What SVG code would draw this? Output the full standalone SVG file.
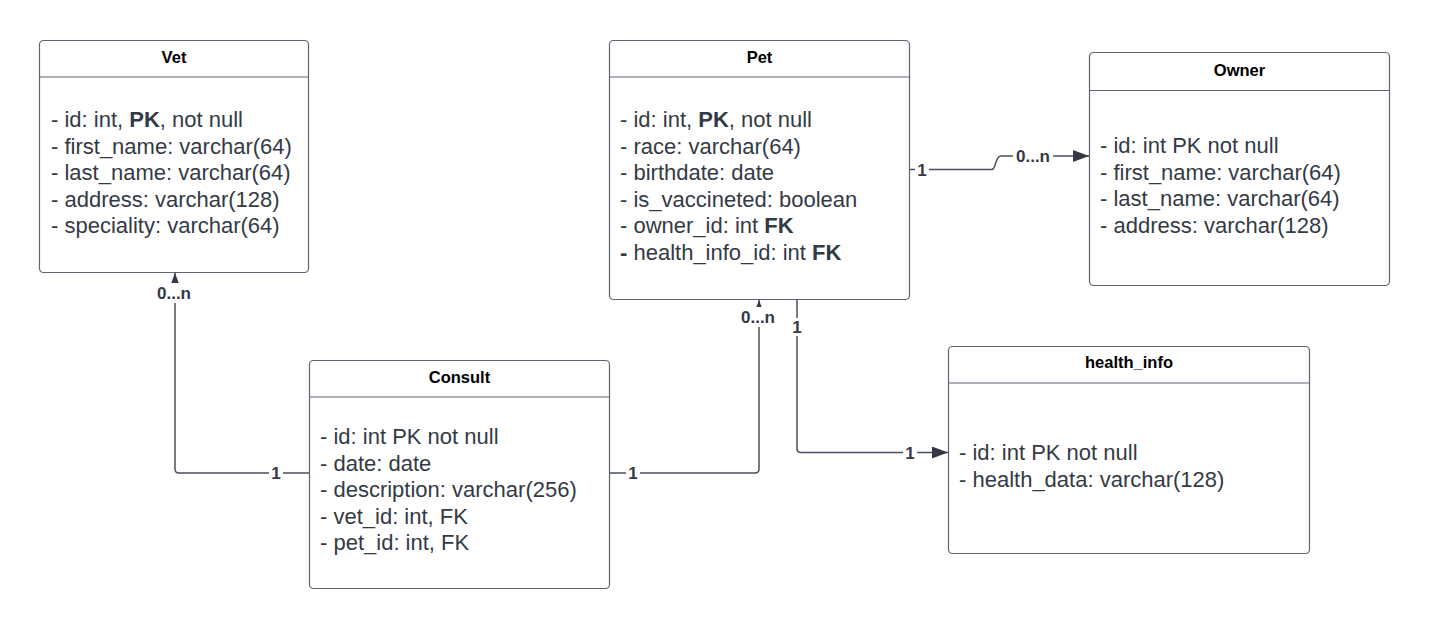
<svg xmlns="http://www.w3.org/2000/svg" width="1429" height="628" viewBox="0 0 1429 628">
<style>
.box{fill:#ffffff;stroke:#5e6470;stroke-width:1.2}
.hdr{stroke:#5e6470;stroke-width:1.2}
.title{font-family:"Liberation Sans",Arial,sans-serif;font-weight:bold;font-size:16.5px;fill:#000;text-anchor:middle}
.body{font-family:"Liberation Sans",Arial,sans-serif;font-size:22px;fill:#333a45}
.body tspan.b{font-weight:bold}
.conn{fill:none;stroke:#4a505c;stroke-width:1.5}
.lbl{font-family:"Liberation Sans",Arial,sans-serif;font-weight:bold;font-size:17px;fill:#333a45;text-anchor:middle}
.lbg{fill:#ffffff}
</style>
<defs>
<marker id="arr" viewBox="0 0 16 12" refX="16" refY="6" markerWidth="16" markerHeight="12" markerUnits="userSpaceOnUse" orient="auto">
<path d="M0,0 L16,6 L0,12 Z" fill="#333a45"/>
</marker>
</defs>
<rect width="1429" height="628" fill="#ffffff"/>

<g id="connectors">
<path class="conn" d="M309.5,473 L179,473 Q175,473 175,469 L175,273" marker-end="url(#arr)"/>
<path class="conn" d="M609.5,473 L755,473 Q759,473 759,469 L759,300" marker-end="url(#arr)"/>
<path class="conn" d="M909.5,169.5 L992,169.5 C996,169.5 995,156 1001,156 L1089,156" marker-end="url(#arr)"/>
<path class="conn" d="M797,299.5 L797,448.5 Q797,452.5 801,452.5 L948,452.5" marker-end="url(#arr)"/>
<rect class="lbg" x="154" y="283" width="40" height="20"/>
<text class="lbl" x="174" y="298.5">0...n</text>
<rect class="lbg" x="269" y="464" width="14" height="18"/>
<text class="lbl" x="276" y="479">1</text>
<rect class="lbg" x="626" y="464" width="14" height="18"/>
<text class="lbl" x="633" y="479">1</text>
<rect class="lbg" x="738" y="307" width="40" height="20"/>
<text class="lbl" x="758" y="322.5">0...n</text>
<rect class="lbg" x="790" y="318" width="14" height="18"/>
<text class="lbl" x="797" y="333">1</text>
<rect class="lbg" x="915" y="161" width="14" height="18"/>
<text class="lbl" x="922" y="176">1</text>
<rect class="lbg" x="1013" y="147" width="40" height="18"/>
<text class="lbl" x="1033" y="162">0...n</text>
<rect class="lbg" x="903" y="444" width="14" height="18"/>
<text class="lbl" x="910" y="458.5">1</text>
</g>

<g id="vet">
<rect class="box" x="39.5" y="40.5" width="269" height="232" rx="4"/>
<line class="hdr" x1="39.5" y1="77" x2="308.5" y2="77"/>
<text class="title" x="174" y="63">Vet</text>
<text class="body" x="51" y="127">- id: int, <tspan class="b">PK</tspan>, not null</text>
<text class="body" x="51" y="153.5">- first_name: varchar(64)</text>
<text class="body" x="51" y="180">- last_name: varchar(64)</text>
<text class="body" x="51" y="206.5">- address: varchar(128)</text>
<text class="body" x="51" y="233">- speciality: varchar(64)</text>
</g>

<g id="pet">
<rect class="box" x="609.5" y="40.5" width="300" height="259" rx="4"/>
<line class="hdr" x1="609.5" y1="77" x2="909.5" y2="77"/>
<text class="title" x="759.5" y="63">Pet</text>
<text class="body" x="620" y="127">- id: int, <tspan class="b">PK</tspan>, not null</text>
<text class="body" x="620" y="153.5">- race: varchar(64)</text>
<text class="body" x="620" y="180">- birthdate: date</text>
<text class="body" x="620" y="206.5">- is_vaccineted: boolean</text>
<text class="body" x="620" y="233">- owner_id: int <tspan class="b">FK</tspan></text>
<text class="body" x="620" y="259.5"><tspan class="b">-</tspan> health_info_id: int <tspan class="b">FK</tspan></text>
</g>

<g id="owner">
<rect class="box" x="1089.5" y="52.5" width="300" height="233" rx="4"/>
<line class="hdr" x1="1089.5" y1="90.5" x2="1389.5" y2="90.5"/>
<text class="title" x="1239.5" y="76">Owner</text>
<text class="body" x="1100" y="153">- id: int PK not null</text>
<text class="body" x="1100" y="179.5">- first_name: varchar(64)</text>
<text class="body" x="1100" y="206">- last_name: varchar(64)</text>
<text class="body" x="1100" y="232.5">- address: varchar(128)</text>
</g>

<g id="consult">
<rect class="box" x="309.5" y="360.5" width="300" height="228" rx="4"/>
<line class="hdr" x1="309.5" y1="397" x2="609.5" y2="397"/>
<text class="title" x="459.5" y="383">Consult</text>
<text class="body" x="320" y="444">- id: int PK not null</text>
<text class="body" x="320" y="470.5">- date: date</text>
<text class="body" x="320" y="497">- description: varchar(256)</text>
<text class="body" x="320" y="523.5">- vet_id: int, FK</text>
<text class="body" x="320" y="550">- pet_id: int, FK</text>
</g>

<g id="health_info">
<rect class="box" x="948.5" y="346.5" width="361" height="207" rx="4"/>
<line class="hdr" x1="948.5" y1="383" x2="1309.5" y2="383"/>
<text class="title" x="1129" y="368">health_info</text>
<text class="body" x="959" y="460">- id: int PK not null</text>
<text class="body" x="959" y="486.5">- health_data: varchar(128)</text>
</g>
</svg>
